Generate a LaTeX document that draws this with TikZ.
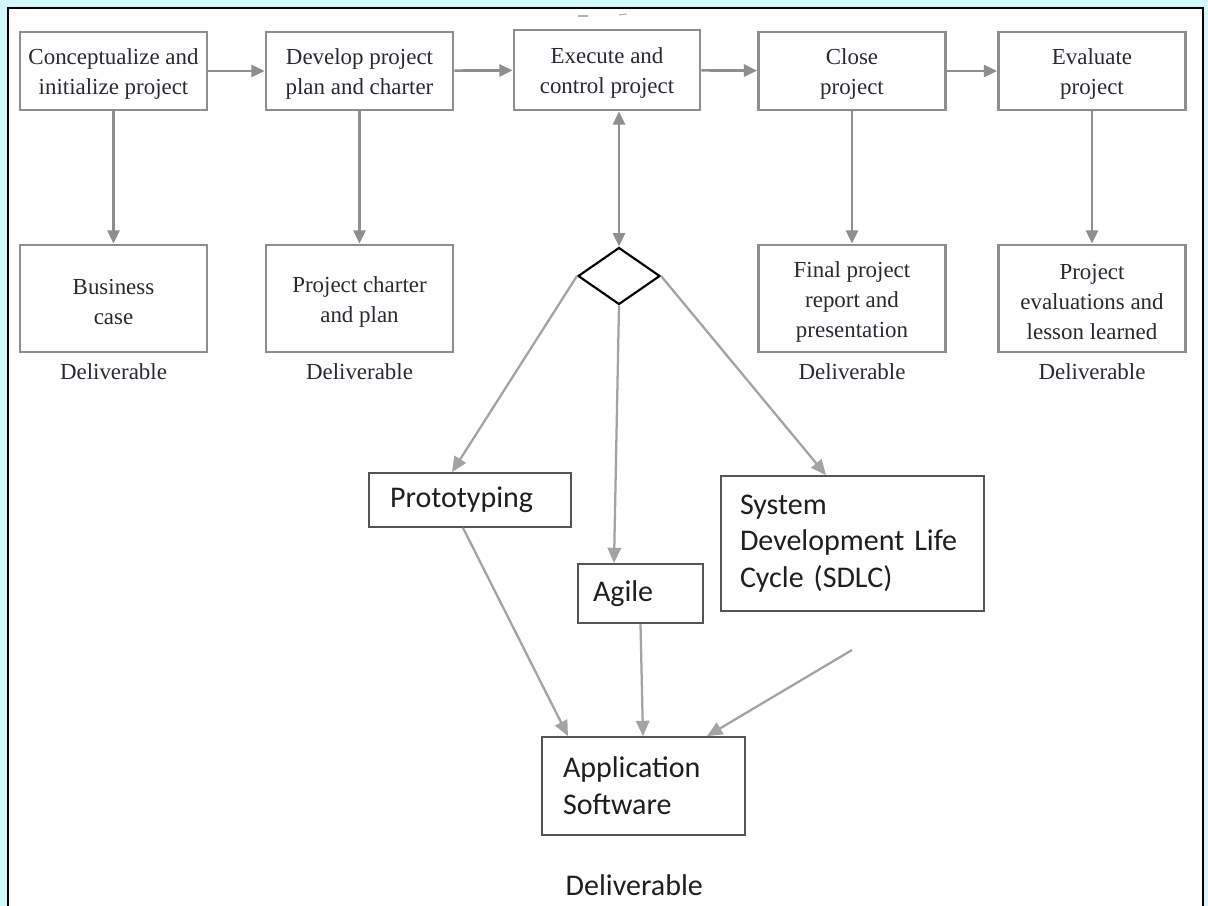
\documentclass[tikz,border=0pt]{standalone}
\usepackage{fontspec}
\setmainfont{Liberation Serif}
\newfontfamily\calib{Carlito}
\usetikzlibrary{arrows.meta,shapes.geometric}

\definecolor{pagebg}{HTML}{D5F6FC}
\definecolor{stageline}{HTML}{8E8E8E}
\definecolor{stagetext}{HTML}{2C2731}
\definecolor{flowline}{HTML}{A3A3A3}
\definecolor{methodline}{HTML}{555555}

% extra room above the first line of a stage label
\newcommand\stagepad{\rule{0pt}{17pt}}

\tikzset{
  stagehead/.tip={Triangle[length=10pt,width=9pt]},
  flowhead/.tip={Triangle[length=11.5pt,width=10pt]},
  stage/.style={draw=stageline, line width=2pt, fill=white,
    minimum width={187*0.75pt}, minimum height={78*0.75pt},
    font=\fontsize{17.2}{22.5}\selectfont, text=stagetext, align=center, inner sep=0pt},
  product/.style={stage, minimum height={107*0.75pt}},
  tag/.style={font=\fontsize{17.2}{22.5}\selectfont, text=stagetext},
  stagearrow/.style={draw=stageline, line width=2pt, -{stagehead}},
  method/.style={draw=methodline, line width=1.3pt, fill=white,
    font=\calib\fontsize{22.5}{27.5}\selectfont, text=black!88,
    align=left, inner ysep=0pt},
  flow/.style={draw=flowline, line width=1.7pt, -{flowhead}},
  decide/.style={diamond, draw=black, line width=1.6pt, fill=white,
    minimum width={82*0.75pt}, minimum height={57*0.75pt}, inner sep=0pt}
}

\begin{document}
\begin{tikzpicture}[x=0.75pt,y=-0.75pt]
  % page and frame
  \fill[pagebg] (0,0) rectangle (1208,906);
  \useasboundingbox (0,0) rectangle (1208,906);
  \draw[line width=1.6pt, fill=white] (8,8) rectangle (1203,920);
  \draw[gray!60, line width=0.8pt] (578,16) -- (588,16);
  \draw[gray!60, line width=0.8pt] (619,15) -- (627,14);

  % project stages
  \node[stage] (s1) at (113.5,71) {\stagepad Conceptualize and\\initialize project};
  \node[stage] (s2) at (359.5,71) {\stagepad Develop project\\plan and charter};
  \node[stage, minimum width={186*0.75pt}, minimum height={80*0.75pt}] (s3) at (607,70) {\stagepad Execute and\\control project};
  \node[stage] (s4) at (852,71) {\stagepad Close\\project};
  \node[stage] (s5) at (1092,71) {\stagepad Evaluate\\project};

  % stage deliverables
  \node[product] (d1) at (113.5,298.5) {\stagepad Business\\case};
  \node[product] (d2) at (359.5,298.5) {\stagepad Project charter\\and plan};
  \node[product] (d4) at (852,298.5) {\stagepad Final project\\report and\\presentation};
  \node[product] (d5) at (1092,298.5) {\stagepad Project\\evaluations and\\lesson learned};

  \node[tag] (t1) at (113.5,372) {Deliverable};
  \node[tag] (t2) at (359.5,372) {Deliverable};
  \node[tag] (t4) at (852,372) {Deliverable};
  \node[tag] (t5) at (1092,372) {Deliverable};

  \draw[stagearrow] (s1) -- (s2);
  \draw[stagearrow] (s2) -- (s3);
  \draw[stagearrow] (s3) -- (s4);
  \draw[stagearrow] (s4) -- (s5);
  \draw[stagearrow] (s1) -- (d1);
  \draw[stagearrow] (s2) -- (d2);
  \draw[stagearrow] (s4) -- (d4);
  \draw[stagearrow] (s5) -- (d5);

  % development approach choice
  \node[decide] (dia) at (619,276) {};
  \draw[stagearrow, {stagehead}-{stagehead}]
    (dia.north) -- (s3.south -| dia.north);

  \node[method, text width={160*0.75pt}, inner xsep={21*0.75pt},
        minimum height={54*0.75pt}] (proto) at (470,500) {Prototyping};
  \node[method, text width={95*0.75pt}, inner xsep={15*0.75pt},
        minimum height={59*0.75pt}] (agile) at (640.5,593.5) {Agile};
  \node[method, text width={225*0.75pt}, inner xsep={19*0.75pt},
        minimum height={135*0.75pt}] (sdlc) at (852.5,543.5) {System\\Development Life\\Cycle (SDLC)};
  \node[method, text width={161*0.75pt}, inner xsep={21*0.75pt},
        minimum height={98*0.75pt}] (app) at (643.5,786) {Application\\Software};
  \node[font=\calib\fontsize{22.5}{27.5}\selectfont, text=black!88, anchor=west]
    (tapp) at (561,885) {Deliverable};

  \draw[flow] (dia.west) -- (proto.north -| 452,0);
  \draw[flow] (dia.south) -- (agile.north -| 614,0);
  \draw[flow] (dia.east) -- (sdlc.north -| 826,0);
  \draw[flow] (proto.south -| 463,0) -- (app.north -| 568,0);
  \draw[flow] (agile.south) -- (app.north -| 643,0);
  \coordinate (sdlcout) at (852,650);
  \draw[flow] (sdlcout) -- (app.north -| 707,0);
\end{tikzpicture}
\end{document}
